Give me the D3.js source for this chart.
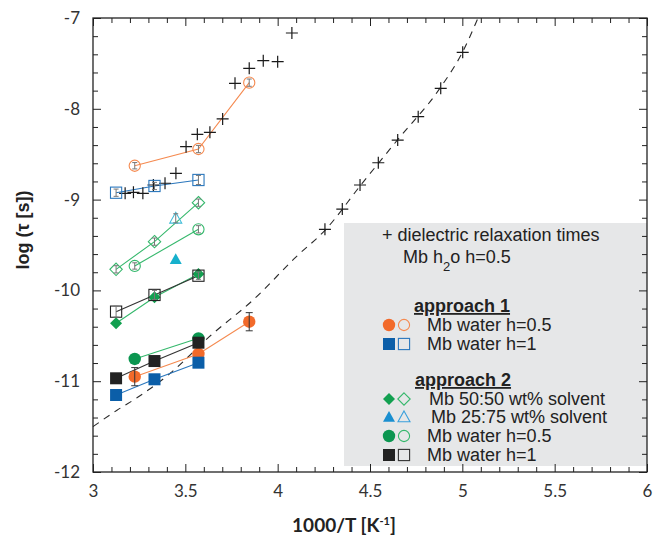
<!DOCTYPE html>
<html><head><meta charset="utf-8">
<script src="https://cdn.jsdelivr.net/npm/d3@7"></script>
<style>body{margin:0;background:#fff}svg{display:block}</style>
</head><body><svg id="c" width="654" height="540"></svg>
<script>
// ---- data ----
const xTicksMajor = [3, 3.5, 4, 4.5, 5, 5.5, 6];
const xTickLabels = ["3", "3.5", "4", "4.5", "5", "5.5", "6"];
const yTicksMajor = [-12, -11, -10, -9, -8, -7];
const yTickLabels = ["-12", "-11", "-10", "-9", "-8", "-7"];

const dielX = [3.174, 3.219, 3.270, 3.327, 3.390, 3.449, 3.504, 3.565, 3.633, 3.702, 3.769, 3.846, 3.922, 4.000, 4.077,
               4.256, 4.350, 4.446, 4.545, 4.650, 4.761, 4.883, 5.002];
const dielY = [-8.931, -8.920, -8.931, -8.839, -8.820, -8.711, -8.417, -8.281, -8.259, -8.112, -7.719, -7.554, -7.470, -7.481, -7.165,
               -9.327, -9.104, -8.839, -8.594, -8.344, -8.087, -7.774, -7.378];

const fitX = [3.0, 3.13, 3.24, 3.42, 3.63, 3.87, 4.10, 4.26, 4.45, 4.65, 4.88, 5.0, 5.085];
const fitY = [-11.50, -11.32, -11.18, -10.91, -10.51, -10.10, -9.63, -9.33, -8.84, -8.34, -7.77, -7.38, -7.0];

// approach 1, Mb water h=0.5 (orange)
const a1h05FilledX = [3.226, 3.571, 3.846];
const a1h05FilledY = [-10.950, -10.700, -10.345];
const a1h05FilledErr = [0.10, 0.0, 0.10];
const a1h05OpenX = [3.226, 3.571, 3.846];
const a1h05OpenY = [-8.627, -8.443, -7.712];
const a1h05OpenErr = [0.035, 0.04, 0.04];
// approach 1, Mb water h=1 (blue)
const a1h1FilledX = [3.125, 3.333, 3.571];
const a1h1FilledY = [-11.152, -10.979, -10.796];
const a1h1OpenX = [3.125, 3.333, 3.571];
const a1h1OpenY = [-8.924, -8.850, -8.784];
const a1h1OpenErr = [0.04, 0.04, 0.05];
// approach 2, Mb 50:50 wt% solvent (green diamonds)
const a2s50FilledX = [3.125, 3.333, 3.571];
const a2s50FilledY = [-10.362, -10.076, -9.820];
const a2s50OpenX = [3.125, 3.333, 3.571];
const a2s50OpenY = [-9.768, -9.463, -9.034];
const a2s50OpenErr = [0.04, 0.04, 0.04];
// approach 2, Mb 25:75 wt% solvent (triangles)
const a2s25FilledX = [3.448];
const a2s25FilledY = [-9.657];
const a2s25OpenX = [3.448];
const a2s25OpenY = [-9.206];
const a2s25OpenErr = [0.05];
// approach 2, Mb water h=0.5 (green circles)
const a2h05FilledX = [3.226, 3.571];
const a2h05FilledY = [-10.755, -10.528];
const a2h05OpenX = [3.226, 3.571];
const a2h05OpenY = [-9.731, -9.327];
const a2h05OpenErr = [0.035, 0.04];
// approach 2, Mb water h=1 (black squares)
const a2h1FilledX = [3.125, 3.333, 3.571];
const a2h1FilledY = [-10.968, -10.778, -10.576];
const a2h1OpenX = [3.125, 3.333, 3.571];
const a2h1OpenY = [-10.234, -10.050, -9.838];
const a2h1OpenErr = [0.06, 0.05, 0.04];

// ---- layout ----
const svg = d3.select("#c");
const L = 93, R = 647, T = 18, B = 472;
const x = d3.scaleLinear().domain([3, 6]).range([L, R]);
const y = d3.scaleLinear().domain([-12, -7]).range([B, T]);
const zip = (xs, ys, es) => xs.map((v, i) => ({x: v, y: ys[i], e: es ? es[i] : 0}));

// legend box
svg.append("rect").attr("x", 344).attr("y", 223).attr("width", R - 344).attr("height", 466 - 223).attr("fill", "#e6e7e8");

// dashed fit curve
svg.append("path").datum(zip(fitX, fitY))
  .attr("d", d3.line().x(d => x(d.x)).y(d => y(d.y)).curve(d3.curveMonotoneX))
  .attr("fill", "none").attr("stroke", "#2a2a2a").attr("stroke-width", 1.1).attr("stroke-dasharray", "7,6");

// marker drawing
function marker(g, shape, filled, color, cx, cy) {
  let el;
  const fill = filled ? color : "none";
  const sw = filled ? 0 : 1.1;
  if (shape === "circle") {
    el = g.append("circle").attr("cx", cx).attr("cy", cy).attr("r", filled ? 6.2 : 5.6);
  } else if (shape === "square") {
    const h = filled ? 6 : 5.6;
    el = g.append("rect").attr("x", cx - h).attr("y", cy - h).attr("width", 2 * h).attr("height", 2 * h);
  } else if (shape === "diamond") {
    const h = filled ? 6 : 6.2;
    el = g.append("path").attr("d", `M${cx},${cy - h}L${cx + h},${cy}L${cx},${cy + h}L${cx - h},${cy}Z`);
  } else if (shape === "triangle") {
    const h = 6;
    el = g.append("path").attr("d", `M${cx},${cy - h}L${cx + h},${cy + h * 0.8}L${cx - h},${cy + h * 0.8}Z`);
  }
  el.attr("fill", fill).attr("stroke", filled ? "none" : color).attr("stroke-width", sw);
  return el;
}

function errbar(g, d, color, cap) {
  if (!d.e) return;
  const cx = x(d.x), y1 = y(d.y + d.e), y2 = y(d.y - d.e);
  g.append("line").attr("x1", cx).attr("x2", cx).attr("y1", y1).attr("y2", y2).attr("stroke", color).attr("stroke-width", 1);
  g.append("line").attr("x1", cx - cap).attr("x2", cx + cap).attr("y1", y1).attr("y2", y1).attr("stroke", color).attr("stroke-width", 1);
  g.append("line").attr("x1", cx - cap).attr("x2", cx + cap).attr("y1", y2).attr("y2", y2).attr("stroke", color).attr("stroke-width", 1);
}

const C = {orange: "#f26a2a", orangeL: "#f58a50", blue: "#0b5ea8", blueL: "#2a77bd", green: "#0b9650", greenL: "#35b86c", greenD: "#12a050",
           tri: "#16b0cc", triL: "#3fbcd8", black: "#222222"};

const series = [
  {d: zip(a1h05OpenX, a1h05OpenY, a1h05OpenErr), shape: "circle", filled: false, color: C.orangeL, line: C.orangeL},
  {d: zip(a1h1OpenX, a1h1OpenY, a1h1OpenErr), shape: "square", filled: false, color: C.blueL, line: C.blueL},
  {d: zip(a2s50OpenX, a2s50OpenY, a2s50OpenErr), shape: "diamond", filled: false, color: C.greenL, line: C.greenL},
  {d: zip(a2s25OpenX, a2s25OpenY, a2s25OpenErr), shape: "triangle", filled: false, color: C.triL, line: null},
  {d: zip(a2h05OpenX, a2h05OpenY, a2h05OpenErr), shape: "circle", filled: false, color: C.greenL, line: C.greenL},
  {d: zip(a2s50FilledX, a2s50FilledY), shape: "diamond", filled: true, color: C.greenD, line: C.greenL},
  {d: zip(a2h1OpenX, a2h1OpenY, a2h1OpenErr), shape: "square", filled: false, color: C.black, line: "#333"},
  {d: zip(a2s25FilledX, a2s25FilledY), shape: "triangle", filled: true, color: C.tri, line: null},
  {d: zip(a2h05FilledX, a2h05FilledY), shape: "circle", filled: true, color: C.green, line: C.greenL},
  {d: zip(a1h05FilledX, a1h05FilledY, a1h05FilledErr), shape: "circle", filled: true, color: C.orange, line: C.orangeL},
  {d: zip(a1h1FilledX, a1h1FilledY), shape: "square", filled: true, color: C.blue, line: C.blueL},
  {d: zip(a2h1FilledX, a2h1FilledY), shape: "square", filled: true, color: C.black, line: "#333"}
];

const lineGen = d3.line().x(d => x(d.x)).y(d => y(d.y));
const gl = svg.append("g");
series.forEach(s => {
  if (s.line && s.d.length > 1)
    gl.append("path").datum(s.d).attr("d", lineGen).attr("fill", "none").attr("stroke", s.line).attr("stroke-width", 1.1);
});

// dielectric pluses
const gp = svg.append("g");
zip(dielX, dielY).forEach(d => {
  const cx = x(d.x), cy = y(d.y), h = 6;
  gp.append("path").attr("d", `M${cx - h},${cy}H${cx + h}M${cx},${cy - h}V${cy + h}`)
    .attr("stroke", "#1a1a1a").attr("stroke-width", 1.2).attr("fill", "none");
});

const gm = svg.append("g");
series.forEach(s => {
  s.d.forEach(d => {
    if (s.filled) {
      marker(gm, s.shape, true, s.color, x(d.x), y(d.y));
      errbar(gm, d, "#333", 3.5);
    } else {
      marker(gm, s.shape, false, s.color, x(d.x), y(d.y));
      errbar(gm, d, "#777", 2.5);
    }
  });
});

// axes
function addAxis(gen, tr, vals, size, labels) {
  const g = svg.append("g").attr("transform", tr)
    .call(gen.tickValues(vals).tickSize(size).tickSizeOuter(0).tickPadding(13)
      .tickFormat(labels ? ((d, i) => labels[i]) : ""));
  g.select(".domain").remove();
  g.selectAll(".tick line").attr("stroke", "#222").attr("stroke-width", 1);
  g.selectAll("text").attr("font-family", "Lato, 'Open Sans', sans-serif").attr("font-size", 17).attr("fill", "#333");
  return g;
}
const xMinor = d3.range(30, 61).map(v => v / 10).filter(v => Math.abs(v * 2 - Math.round(v * 2)) > 1e-6);
const yMinor = d3.range(-60, -34).map(v => v / 5).filter(v => Math.abs(v - Math.round(v)) > 1e-6);
addAxis(d3.axisBottom(x), `translate(0,${B})`, xMinor, -5, null);
addAxis(d3.axisBottom(x), `translate(0,${B})`, xTicksMajor, -8, xTickLabels);
addAxis(d3.axisTop(x), `translate(0,${T})`, xMinor, -5, null);
addAxis(d3.axisTop(x), `translate(0,${T})`, xTicksMajor, -8, null);
addAxis(d3.axisLeft(y), `translate(${L},0)`, yMinor, -5, null);
addAxis(d3.axisLeft(y), `translate(${L},0)`, yTicksMajor, -8, yTickLabels);
addAxis(d3.axisRight(y), `translate(${R},0)`, yMinor, -5, null);
addAxis(d3.axisRight(y), `translate(${R},0)`, yTicksMajor, -8, null);
svg.append("rect").attr("x", L).attr("y", T).attr("width", R - L).attr("height", B - T)
  .attr("fill", "none").attr("stroke", "#222").attr("stroke-width", 1.3);

// axis titles
svg.append("text").attr("x", 344).attr("y", 532).attr("text-anchor", "middle")
  .attr("font-family", "Lato, sans-serif").attr("font-weight", "bold").attr("font-size", 19).attr("fill", "#222")
  .html('1000/T [K<tspan dy="-7" font-size="11">-1</tspan><tspan dy="7">]</tspan>');
svg.append("text").attr("transform", "translate(29,230) rotate(-90)").attr("text-anchor", "middle")
  .attr("font-family", "'Liberation Sans', Arial, sans-serif").attr("font-weight", "bold").attr("font-size", 18).attr("fill", "#222")
  .text("log (τ [s])");

// legend
const lg = svg.append("g").attr("font-family", "'Liberation Sans', Arial, sans-serif").attr("font-size", 18).attr("fill", "#222");
lg.append("text").attr("x", 382).attr("y", 241).text("+ dielectric relaxation times");
lg.append("text").attr("x", 403).attr("y", 263).html('Mb h<tspan dy="8" font-size="13">2</tspan><tspan dy="-8">o h=0.5</tspan>');
lg.append("text").attr("x", 414).attr("y", 312).attr("font-weight", "bold").attr("text-decoration", "underline").text("approach 1");
lg.append("text").attr("x", 415).attr("y", 386).attr("font-weight", "bold").attr("text-decoration", "underline").text("approach 2");
const legRows = [
  {shape: "circle", fc: C.orange, oc: C.orangeL, text: "Mb water h=0.5", tx: 427, y: 325},
  {shape: "square", fc: C.blue, oc: C.blueL, text: "Mb water h=1", tx: 427, y: 344},
  {shape: "diamond", fc: C.greenD, oc: C.greenL, text: "Mb 50:50 wt% solvent", tx: 429, y: 399},
  {shape: "triangle", fc: "#1a8fd0", oc: "#3aa0dc", text: "Mb 25:75 wt% solvent", tx: 431, y: 417},
  {shape: "circle", fc: C.green, oc: C.greenL, text: "Mb water h=0.5", tx: 427, y: 436},
  {shape: "square", fc: C.black, oc: "#333", text: "Mb water h=1", tx: 427, y: 455}
];
legRows.forEach(r => {
  marker(lg, r.shape, true, r.fc, 389, r.y);
  marker(lg, r.shape, false, r.oc, 404, r.y);
  lg.append("text").attr("x", r.tx).attr("y", r.y + 6).text(r.text);
});
</script></body></html>
